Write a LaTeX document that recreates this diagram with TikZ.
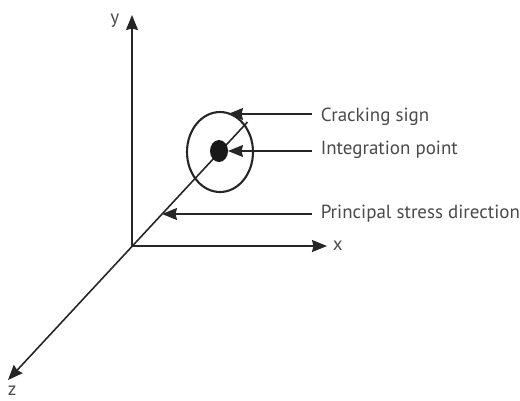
\documentclass[tikz,border=0pt]{standalone}
\usepackage{fontspec}
\setmainfont{PT Sans}
\usetikzlibrary{positioning, arrows.meta, shapes.geometric}
\definecolor{inkdark}{HTML}{262626}
\definecolor{textgray}{HTML}{4A4A4A}

\begin{document}
\begin{tikzpicture}[
		x=0.02cm, y=-0.02cm,
		>={Stealth[length=0.3cm, width=0.24cm, inset=0.03cm]}, line width=0.9pt,
		axis/.style={->, draw=inkdark},
		leader/.style={->, draw=inkdark},
		callout/.style={font=\fontsize{10.8}{12}\selectfont, text=textgray, inner sep=0pt, anchor=west},
		axislabel/.style={font=\fontsize{10.8}{12}\selectfont, text=textgray, inner sep=0pt}
		]
		\useasboundingbox (0,0) rectangle (520,400);
		
		% --- Axes ---
		\coordinate (O) at (132,246);
		\coordinate (ytip) at (132,15);
		\coordinate (xtip) at (327,246);
		\coordinate (ztip) at (8,380);
		\coordinate (dirend) at (247.5,122);
		
		\draw[axis] (O) -- (ytip);
		\draw[axis] (O) -- (xtip);
		\draw[axis] (dirend) -- (ztip);
		
		\node[axislabel, left=0.24cm of ytip, yshift=-0.12cm] (ylabel) {y};
		\node[axislabel, right=0.1cm of xtip] (xlabel) {x};
		\node[axislabel, below=0.1cm of ztip, xshift=0.08cm] (zlabel) {z};
		
		% --- Integration point ---
		\node[draw=inkdark, line width=1.2pt, ellipse, minimum width=1.32cm, minimum height=1.6cm, inner sep=0pt] (crack) at (220,152) {};
		\node[fill=black!90, ellipse, minimum width=0.36cm, minimum height=0.44cm, inner sep=0pt] (ipoint) at (219,151) {};
		
		% --- Callouts ---
		\node[callout] (lcrack) at (320,117) {Cracking sign};
		\node[callout] (lpoint) at (320,150) {Integration point};
		\node[callout] (lprinc) at (320,214) {Principal stress direction};
		
		\coordinate (scrack) at (312,114);
		\coordinate (spoint) at (312,151);
		\coordinate (sprinc) at (312,214);
		\coordinate (tcrack) at (228,114);
		\coordinate (tpoint) at (228,151);
		\coordinate (tprinc) at (162,214);
		
		\draw[leader] (scrack) -- (tcrack);
		\draw[leader] (spoint) -- (tpoint);
		\draw[leader] (sprinc) -- (tprinc);
		
	\end{tikzpicture}
\end{document}
